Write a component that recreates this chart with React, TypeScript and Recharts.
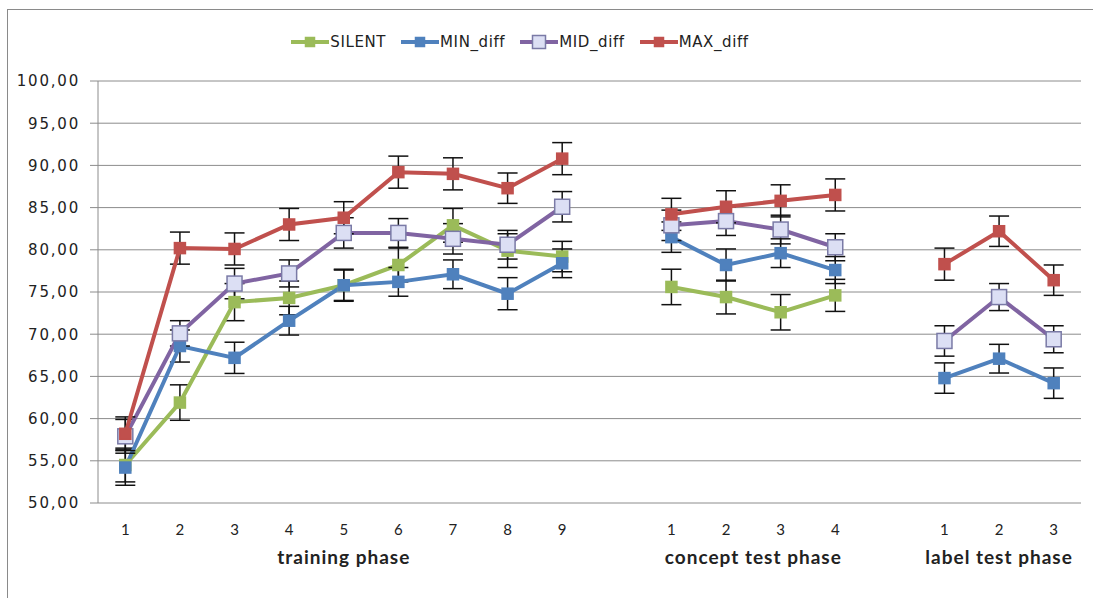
import {
  LineChart,
  Line,
  XAxis,
  YAxis,
  CartesianGrid,
  Legend,
  ErrorBar,
} from "recharts";

// slot labels along the x axis; empty strings are the gaps between phases
const tickLabels = [
  "1", "2", "3", "4", "5", "6", "7", "8", "9", "",
  "1", "2", "3", "4", "",
  "1", "2", "3",
];

const phases = [
  { name: "training phase", from: 0, to: 9 },
  { name: "concept test phase", from: 10, to: 14 },
  { name: "label test phase", from: 15, to: 18 },
];

const silent = [54.5, 61.9, 73.8, 74.3, 75.8, 78.2, 82.9, 79.9, 79.2, null, 75.6, 74.4, 72.6, 74.6, null, null, null, null];
const minDiff = [54.2, 68.6, 67.2, 71.6, 75.8, 76.2, 77.1, 74.8, 78.4, null, 81.5, 78.2, 79.6, 77.6, null, 64.8, 67.1, 64.2];
const midDiff = [57.9, 70.1, 76.0, 77.2, 82.0, 82.0, 81.3, 80.6, 85.1, null, 82.9, 83.4, 82.4, 80.3, null, 69.2, 74.4, 69.4];
const maxDiff = [58.2, 80.2, 80.1, 83.0, 83.8, 89.2, 89.0, 87.3, 90.8, null, 84.2, 85.1, 85.8, 86.5, null, 78.3, 82.2, 76.4];

const silentErr = [2.0, 2.1, 2.2, 2.0, 1.9, 2.0, 2.0, 2.0, 1.8, null, 2.1, 2.0, 2.1, 1.9, null, null, null, null];
const minErr = [2.1, 1.9, 1.85, 1.7, 1.8, 1.7, 1.7, 1.9, 1.7, null, 1.8, 1.9, 1.7, 1.6, null, 1.8, 1.7, 1.8];
const midErr = [2.0, 1.5, 1.8, 1.6, 1.8, 1.7, 1.8, 1.7, 1.8, null, 1.8, 1.7, 1.7, 1.6, null, 1.8, 1.6, 1.6];
const maxErr = [2.0, 1.9, 1.9, 1.9, 1.9, 1.9, 1.9, 1.8, 1.9, null, 1.9, 1.9, 1.9, 1.9, null, 1.9, 1.8, 1.8];

const yTicks = [50, 55, 60, 65, 70, 75, 80, 85, 90, 95, 100];

const series = [
  { key: "SILENT", err: "SILENT_err", color: "#9BBB59", fill: "#9BBB59", stroke: "#9BBB59", size: 11 },
  { key: "MIN_diff", err: "MIN_diff_err", color: "#4F81BD", fill: "#4F81BD", stroke: "#4F81BD", size: 11 },
  { key: "MID_diff", err: "MID_diff_err", color: "#8064A2", fill: "#DCDFF4", stroke: "#7A7AA6", size: 15 },
  { key: "MAX_diff", err: "MAX_diff_err", color: "#C0504D", fill: "#C0504D", stroke: "#C0504D", size: 11 },
];

const data = tickLabels.map((label, i) => ({
  x: i + 0.5,
  label,
  SILENT: silent[i],
  SILENT_err: silentErr[i],
  MIN_diff: minDiff[i],
  MIN_diff_err: minErr[i],
  MID_diff: midDiff[i],
  MID_diff_err: midErr[i],
  MAX_diff: maxDiff[i],
  MAX_diff_err: maxErr[i],
}));

const slotTicks = tickLabels.map((_, i) => i + 0.5);
const boundTicks = Array.from({ length: tickLabels.length + 1 }, (_, i) => i);
const phaseTicks = phases.map((p) => (p.from + p.to) / 2);

const squareDot = (fill: string, stroke: string, size: number) => (props: any) => {
  const { cx, cy, value, index } = props;
  if (value == null || cx == null || cy == null) return <g key={index} />;
  return (
    <rect
      key={index}
      x={cx - size / 2}
      y={cy - size / 2}
      width={size}
      height={size}
      fill={fill}
      stroke={stroke}
      strokeWidth={1.5}
    />
  );
};

const LegendContent = () => (
  <div style={{ display: "flex", justifyContent: "center", gap: 15 }}>
    {series.map((s) => (
      <div key={s.key} style={{ display: "flex", alignItems: "center" }}>
        <svg width={38} height={16}>
          <line x1={0} y1={8} x2={38} y2={8} stroke={s.color} strokeWidth={4} />
          <rect
            x={19 - s.size / 2 + 1}
            y={8 - s.size / 2 + 1}
            width={s.size - 2}
            height={s.size - 2}
            fill={s.fill}
            stroke={s.stroke}
            strokeWidth={1.5}
          />
        </svg>
        <span
          style={{
            fontFamily: "DejaVu Sans",
            fontSize: 15,
            letterSpacing: 0.6,
            color: "#222",
            marginLeft: 1,
          }}
        >
          {s.key}
        </span>
      </div>
    ))}
  </div>
);

const PhaseTick = (props: any) => {
  const { x, y, payload } = props;
  const phase = phases.find((p) => (p.from + p.to) / 2 === payload.value);
  return (
    <text
      x={x}
      y={y}
      dy={12}
      textAnchor="middle"
      fontFamily="Lato"
      fontWeight="bold"
      fontSize={19}
      letterSpacing={1}
      fill="#222"
    >
      {phase ? phase.name : ""}
    </text>
  );
};

export default function App() {
  return (
    <div
      style={{
        position: "absolute",
        left: 0,
        top: 0,
        width: 1093,
        height: 598,
        overflow: "hidden",
        background: "#fff",
      }}
    >
      <div
        style={{
          position: "absolute",
          left: 7,
          top: 9,
          width: 1200,
          height: 700,
          border: "1px solid #8a8a8a",
        }}
      />
      <LineChart
        width={1093}
        height={598}
        data={data}
        margin={{ top: 81, right: 12, bottom: 41, left: 8 }}
      >
        <CartesianGrid
          xAxisId="b_slots"
          vertical={false}
          stroke="#8c8c8c"
          strokeWidth={1}
        />
        <XAxis
          xAxisId="a_bounds"
          type="number"
          dataKey="x"
          domain={[0, tickLabels.length]}
          ticks={boundTicks}
          interval={0}
          tick={false}
          tickSize={7}
          tickLine={{ stroke: "#8c8c8c" }}
          axisLine={{ stroke: "#8c8c8c" }}
          height={0}
        />
        <XAxis
          xAxisId="b_slots"
          type="number"
          dataKey="x"
          domain={[0, tickLabels.length]}
          ticks={slotTicks}
          interval={0}
          tickFormatter={(v: number) => tickLabels[Math.floor(v)]}
          tickLine={false}
          axisLine={false}
          tickMargin={15}
          tick={{ fontFamily: "Lato", fontSize: 15, fill: "#222" }}
          height={41}
        />
        <XAxis
          xAxisId="c_phases"
          type="number"
          dataKey="x"
          domain={[0, tickLabels.length]}
          ticks={phaseTicks}
          interval={0}
          tickLine={false}
          axisLine={false}
          tick={<PhaseTick />}
          height={13}
        />
        <YAxis
          domain={[50, 100]}
          ticks={yTicks}
          interval={0}
          width={90}
          tickSize={8}
          tickMargin={10}
          tickLine={{ stroke: "#8c8c8c" }}
          axisLine={{ stroke: "#8c8c8c" }}
          tickFormatter={(v: number) => v.toFixed(2).replace(".", ",")}
          tick={{ fontFamily: "DejaVu Sans", fontSize: 15, letterSpacing: 1.8, fill: "#222" }}
        />
        <Legend
          verticalAlign="middle"
          align="center"
          layout="horizontal"
          content={<LegendContent />}
          wrapperStyle={{ top: 33, left: 0, width: 1040 }}
        />
        {series.map((s) => (
          <Line
            key={s.key}
            xAxisId="b_slots"
            type="linear"
            dataKey={s.key}
            stroke={s.color}
            strokeWidth={4}
            dot={squareDot(s.fill, s.stroke, s.size)}
            activeDot={false}
            connectNulls={false}
            isAnimationActive={false}
          >
            <ErrorBar
              dataKey={s.err}
              direction="y"
              width={10}
              stroke="#111"
              strokeWidth={1.5}
            />
          </Line>
        ))}
      </LineChart>
    </div>
  );
}
